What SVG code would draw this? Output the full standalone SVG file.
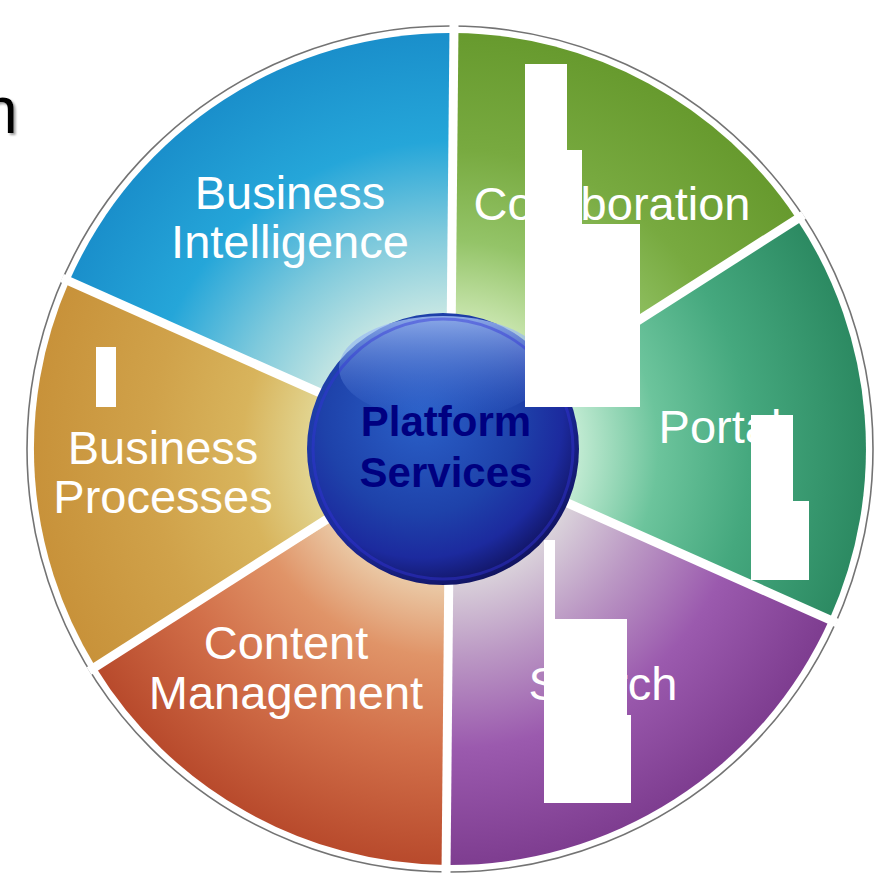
<svg xmlns="http://www.w3.org/2000/svg" width="876" height="877" viewBox="0 0 876 877">
<defs>
<radialGradient id="gBI" gradientUnits="userSpaceOnUse" cx="450" cy="449" r="416">
<stop offset="0.3" stop-color="#cfeae4"/><stop offset="0.52" stop-color="#80cadc"/><stop offset="0.74" stop-color="#25a6d9"/><stop offset="1" stop-color="#1a8fcb"/>
</radialGradient>
<radialGradient id="gCO" gradientUnits="userSpaceOnUse" cx="450" cy="449" r="416">
<stop offset="0.3" stop-color="#cde8b4"/><stop offset="0.5" stop-color="#94c468"/><stop offset="0.72" stop-color="#78aa40"/><stop offset="1" stop-color="#679a2e"/>
</radialGradient>
<radialGradient id="gPO" gradientUnits="userSpaceOnUse" cx="450" cy="449" r="416">
<stop offset="0.3" stop-color="#c4ecd4"/><stop offset="0.5" stop-color="#6cc49c"/><stop offset="0.72" stop-color="#45a87e"/><stop offset="1" stop-color="#2c8a62"/>
</radialGradient>
<radialGradient id="gSE" gradientUnits="userSpaceOnUse" cx="450" cy="449" r="416">
<stop offset="0.3" stop-color="#dcd6dc"/><stop offset="0.5" stop-color="#bb98c4"/><stop offset="0.72" stop-color="#9b5aae"/><stop offset="1" stop-color="#7e3d90"/>
</radialGradient>
<radialGradient id="gCM" gradientUnits="userSpaceOnUse" cx="450" cy="449" r="416">
<stop offset="0.3" stop-color="#ecd2b0"/><stop offset="0.5" stop-color="#e09468"/><stop offset="0.72" stop-color="#d2704a"/><stop offset="1" stop-color="#b84a2c"/>
</radialGradient>
<radialGradient id="gBP" gradientUnits="userSpaceOnUse" cx="450" cy="449" r="416">
<stop offset="0.3" stop-color="#e4dc9c"/><stop offset="0.5" stop-color="#d8b45c"/><stop offset="0.72" stop-color="#d0a24a"/><stop offset="1" stop-color="#c8923a"/>
</radialGradient>
<radialGradient id="gSphere" cx="0.42" cy="0.38" r="0.65">
<stop offset="0" stop-color="#2a60c8"/><stop offset="0.55" stop-color="#1e42aa"/><stop offset="0.8" stop-color="#1c2a9e"/><stop offset="1" stop-color="#10125c"/>
</radialGradient>
<linearGradient id="gHi" x1="0" y1="0" x2="0" y2="1">
<stop offset="0" stop-color="#a8c4f8" stop-opacity="0.8"/><stop offset="1" stop-color="#4a7ae0" stop-opacity="0"/>
</linearGradient>
<filter id="sh" x="-20%" y="-20%" width="160%" height="160%">
<feDropShadow dx="2" dy="2" stdDeviation="0.8" flood-color="#888888" flood-opacity="0.8"/>
</filter>
<style>
.lbl{font-family:"Liberation Sans",Arial,sans-serif;font-size:47px;fill:#ffffff;text-anchor:middle}
.ctr{font-family:"Liberation Sans",Arial,sans-serif;font-size:42px;font-weight:bold;fill:#000080;text-anchor:middle}
.div{stroke:#ffffff;stroke-width:9;fill:none}
.occ{fill:#ffffff}
</style>
</defs>
<rect width="876" height="877" fill="#ffffff"/>
<g id="corner-text">
<text x="18" y="133" font-family="Liberation Sans,Arial,sans-serif" font-size="66" fill="#000000" text-anchor="end" filter="url(#sh)">n</text>
</g>
<circle cx="450" cy="449" r="423" fill="none" stroke="#444444" stroke-width="1.6" opacity="0.75"/>
<g id="seg-collaboration">
<path d="M450 449 L453.6 33 A416 416 0 0 1 796.9 219.4 Z" fill="url(#gCO)"/>
<text class="lbl" x="612" y="220">Collaboration</text>
</g>
<g id="seg-portal">
<path d="M450 449 L796.9 219.4 A416 416 0 0 1 829.4 619.5 Z" fill="url(#gPO)"/>
<text class="lbl" x="720" y="443">Portal</text>
</g>
<g id="seg-search">
<path d="M450 449 L829.4 619.5 A416 416 0 0 1 446.4 865 Z" fill="url(#gSE)"/>
<text class="lbl" x="603" y="700">Search</text>
</g>
<g id="seg-content">
<path d="M450 449 L446.4 865 A416 416 0 0 1 95.3 666.4 Z" fill="url(#gCM)"/>
<text class="lbl" x="286" y="659">Content</text>
<text class="lbl" x="286" y="709">Management</text>
</g>
<g id="seg-processes">
<path d="M450 449 L95.3 666.4 A416 416 0 0 1 69 281.8 Z" fill="url(#gBP)"/>
<text class="lbl" x="163" y="464">Business</text>
<text class="lbl" x="163" y="513">Processes</text>
</g>
<g id="seg-intelligence">
<path d="M450 449 L69 281.8 A416 416 0 0 1 453.6 33 Z" fill="url(#gBI)"/>
<text class="lbl" x="290" y="209">Business</text>
<text class="lbl" x="290" y="258">Intelligence</text>
</g>
<g id="connectors">
<line class="div" x1="454" y1="25" x2="446" y2="873"/>
<line class="div" x1="803.5" y1="215" x2="89" y2="671"/>
<line class="div" x1="837" y1="623" x2="62" y2="278"/>
</g>
<g id="platform-services">
<circle cx="443" cy="449" r="136" fill="url(#gSphere)"/>
<ellipse cx="443" cy="368" rx="104" ry="52" fill="url(#gHi)"/>
<circle cx="443" cy="449" r="130" fill="none" stroke="#3434d8" stroke-width="3" opacity="0.45"/>
<text class="ctr" x="446" y="436">Platform</text>
<text class="ctr" x="446" y="487">Services</text>
</g>
<g id="occluders">
<rect class="occ" x="525" y="64" width="42" height="87"/>
<rect class="occ" x="525" y="150" width="57" height="75"/>
<rect class="occ" x="525" y="224" width="115" height="183"/>
<rect class="occ" x="751" y="415" width="42" height="87"/>
<rect class="occ" x="751" y="501" width="58" height="79"/>
<rect class="occ" x="544" y="540" width="11" height="80"/>
<rect class="occ" x="544" y="619" width="83" height="97"/>
<rect class="occ" x="544" y="715" width="87" height="88"/>
<rect class="occ" x="96" y="347" width="20" height="60"/>
</g>
</svg>
